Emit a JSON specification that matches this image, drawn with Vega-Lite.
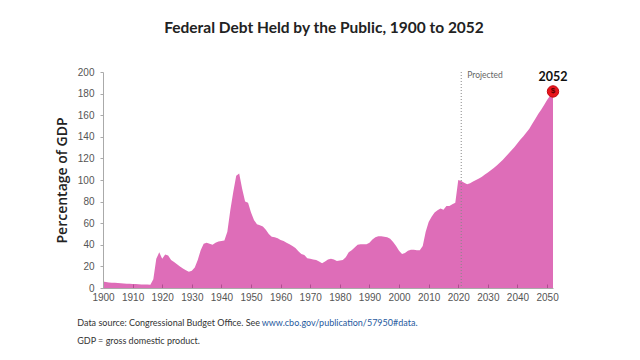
{
  "$schema": "https://vega.github.io/schema/vega-lite/v6.json",
  "width": 450,
  "height": 216,
  "autosize": {"type": "none"},
  "padding": {"left": 103, "top": 72, "right": 87, "bottom": 72},
  "background": "white",
  "config": {"view": {"stroke": null}, "axis": {"labelOverlap": false}},
  "title": {
    "text": "Federal Debt Held by the Public, 1900 to 2052",
    "font": "Lato",
    "fontSize": 15.5,
    "fontWeight": "bold",
    "color": "#222222",
    "anchor": "middle",
    "frame": "group",
    "dx": -4,
    "offset": 31
  },
  "datasets": {
    "debt": [
      {"year": 1900, "value": 6.0}, {"year": 1901, "value": 5.6}, {"year": 1902, "value": 5.2}, {"year": 1903, "value": 4.9},
      {"year": 1904, "value": 4.8}, {"year": 1905, "value": 4.6}, {"year": 1906, "value": 4.4}, {"year": 1907, "value": 4.1},
      {"year": 1908, "value": 4.0}, {"year": 1909, "value": 3.9}, {"year": 1910, "value": 3.7}, {"year": 1911, "value": 3.6},
      {"year": 1912, "value": 3.4}, {"year": 1913, "value": 3.3}, {"year": 1914, "value": 3.2}, {"year": 1915, "value": 3.2},
      {"year": 1916, "value": 3.0}, {"year": 1917, "value": 8}, {"year": 1918, "value": 27}, {"year": 1919, "value": 33},
      {"year": 1920, "value": 27}, {"year": 1921, "value": 31}, {"year": 1922, "value": 30}, {"year": 1923, "value": 26},
      {"year": 1924, "value": 24}, {"year": 1925, "value": 22}, {"year": 1926, "value": 20}, {"year": 1927, "value": 18},
      {"year": 1928, "value": 16.5}, {"year": 1929, "value": 15}, {"year": 1930, "value": 16}, {"year": 1931, "value": 19},
      {"year": 1932, "value": 26}, {"year": 1933, "value": 35}, {"year": 1934, "value": 41}, {"year": 1935, "value": 42},
      {"year": 1936, "value": 41}, {"year": 1937, "value": 40}, {"year": 1938, "value": 42}, {"year": 1939, "value": 43},
      {"year": 1940, "value": 43.5}, {"year": 1941, "value": 44}, {"year": 1942, "value": 52}, {"year": 1943, "value": 72},
      {"year": 1944, "value": 89}, {"year": 1945, "value": 104}, {"year": 1946, "value": 106}, {"year": 1947, "value": 92},
      {"year": 1948, "value": 80}, {"year": 1949, "value": 79}, {"year": 1950, "value": 70}, {"year": 1951, "value": 63},
      {"year": 1952, "value": 59}, {"year": 1953, "value": 58}, {"year": 1954, "value": 57}, {"year": 1955, "value": 54},
      {"year": 1956, "value": 50}, {"year": 1957, "value": 47.5}, {"year": 1958, "value": 47}, {"year": 1959, "value": 46},
      {"year": 1960, "value": 44.5}, {"year": 1961, "value": 43.5}, {"year": 1962, "value": 42}, {"year": 1963, "value": 40.5},
      {"year": 1964, "value": 39}, {"year": 1965, "value": 37}, {"year": 1966, "value": 34}, {"year": 1967, "value": 31.5},
      {"year": 1968, "value": 30.5}, {"year": 1969, "value": 27.5}, {"year": 1970, "value": 27}, {"year": 1971, "value": 26.5},
      {"year": 1972, "value": 26}, {"year": 1973, "value": 24.5}, {"year": 1974, "value": 23}, {"year": 1975, "value": 24.5},
      {"year": 1976, "value": 26.5}, {"year": 1977, "value": 27}, {"year": 1978, "value": 26.5}, {"year": 1979, "value": 25},
      {"year": 1980, "value": 25.5}, {"year": 1981, "value": 26}, {"year": 1982, "value": 28.5}, {"year": 1983, "value": 33},
      {"year": 1984, "value": 35}, {"year": 1985, "value": 37.5}, {"year": 1986, "value": 40}, {"year": 1987, "value": 40.5},
      {"year": 1988, "value": 40.5}, {"year": 1989, "value": 40.5}, {"year": 1990, "value": 42}, {"year": 1991, "value": 45},
      {"year": 1992, "value": 47}, {"year": 1993, "value": 48}, {"year": 1994, "value": 48}, {"year": 1995, "value": 47.5},
      {"year": 1996, "value": 47}, {"year": 1997, "value": 45.5}, {"year": 1998, "value": 42.5}, {"year": 1999, "value": 39},
      {"year": 2000, "value": 34.5}, {"year": 2001, "value": 31.5}, {"year": 2002, "value": 32.5}, {"year": 2003, "value": 34.5},
      {"year": 2004, "value": 35.5}, {"year": 2005, "value": 35.5}, {"year": 2006, "value": 35}, {"year": 2007, "value": 35},
      {"year": 2008, "value": 39}, {"year": 2009, "value": 52}, {"year": 2010, "value": 61}, {"year": 2011, "value": 66},
      {"year": 2012, "value": 70}, {"year": 2013, "value": 72}, {"year": 2014, "value": 73.5}, {"year": 2015, "value": 72.5},
      {"year": 2016, "value": 76}, {"year": 2017, "value": 76}, {"year": 2018, "value": 77.5}, {"year": 2019, "value": 79},
      {"year": 2020, "value": 100}, {"year": 2021, "value": 99}, {"year": 2022, "value": 97.5}, {"year": 2023, "value": 96},
      {"year": 2024, "value": 97}, {"year": 2025, "value": 98.5}, {"year": 2026, "value": 100}, {"year": 2027, "value": 101.5},
      {"year": 2028, "value": 103}, {"year": 2029, "value": 105}, {"year": 2030, "value": 107}, {"year": 2031, "value": 109},
      {"year": 2032, "value": 111}, {"year": 2033, "value": 113.5}, {"year": 2034, "value": 116}, {"year": 2035, "value": 118.5},
      {"year": 2036, "value": 121.5}, {"year": 2037, "value": 124.5}, {"year": 2038, "value": 127.5}, {"year": 2039, "value": 130.5},
      {"year": 2040, "value": 134}, {"year": 2041, "value": 137.5}, {"year": 2042, "value": 140.5}, {"year": 2043, "value": 144},
      {"year": 2044, "value": 147.5}, {"year": 2045, "value": 152}, {"year": 2046, "value": 156.5}, {"year": 2047, "value": 161},
      {"year": 2048, "value": 165}, {"year": 2049, "value": 169.5}, {"year": 2050, "value": 174}, {"year": 2051, "value": 178},
      {"year": 2052, "value": 182}
    ],
    "projectedLine": [{"year": 2021, "value": 200, "bottom": 0}],
    "projectedLabel": [{"year": 2021, "value": 197, "label": "Projected"}],
    "endpoint": [{"year": 2052, "value": 182, "label": "2052", "sign": "$"}],
    "notesPlain": [
      {"year": 1891.3, "value": -32.4, "text": "Data source: Congressional Budget Office. See"},
      {"year": 1891.3, "value": -49, "text": "GDP = gross domestic product."}
    ],
    "notesLink": [
      {"year": 1953.6, "value": -32.4, "text": "www.cbo.gov/publication/57950#data."}
    ]
  },
  "encoding": {
    "x": {
      "field": "year", "type": "quantitative",
      "scale": {"domain": [1900, 2052], "nice": false, "zero": false},
      "axis": {
        "values": [1900, 1910, 1920, 1930, 1940, 1950, 1960, 1970, 1980, 1990, 2000, 2010, 2020, 2030, 2040, 2050],
        "format": "d", "title": null, "grid": false, "labelOverlap": false,
        "labelFont": "Liberation Sans", "labelFontSize": 10, "labelColor": "#555555",
        "labelPadding": 8, "tickSize": -4, "tickColor": "#b04d90",
        "domainColor": "#aaaaaa", "zindex": 1, "labelFlush": false
      }
    },
    "y": {
      "field": "value", "type": "quantitative",
      "scale": {"domain": [0, 200], "nice": false},
      "axis": {
        "values": [0, 20, 40, 60, 80, 100, 120, 140, 160, 180, 200],
        "title": "Percentage of GDP", "grid": false, "labelOverlap": false,
        "titleFont": "Open Sans", "titleFontSize": 14, "titleFontWeight": 600, "titleColor": "#222222",
        "titlePadding": 8,
        "labelFont": "Liberation Sans", "labelFontSize": 10, "labelColor": "#555555",
        "labelPadding": 6, "tickSize": 3, "tickColor": "#aaaaaa", "domainColor": "#aaaaaa", "zindex": 1
      }
    }
  },
  "layer": [
    {
      "data": {"name": "debt"},
      "mark": {"type": "area", "color": "#de6db8", "interpolate": "linear"}
    },
    {
      "data": {"name": "projectedLine"},
      "mark": {"type": "rule", "color": "#888888", "strokeDash": [1, 2], "strokeWidth": 1},
      "encoding": {"y2": {"field": "bottom"}}
    },
    {
      "data": {"name": "projectedLabel"},
      "mark": {"type": "text", "align": "left", "baseline": "middle", "dx": 6, "font": "Lato", "fontSize": 8.5, "color": "#666666"},
      "encoding": {"text": {"field": "label"}}
    },
    {
      "data": {"name": "endpoint"},
      "mark": {"type": "point", "shape": "circle", "filled": true, "size": 130, "color": "#e8141c", "stroke": "#c20a10", "strokeWidth": 1, "opacity": 1}
    },
    {
      "data": {"name": "endpoint"},
      "mark": {"type": "text", "align": "center", "baseline": "middle", "font": "Liberation Sans", "fontSize": 8, "fontWeight": "bold", "color": "#5a0000"},
      "encoding": {"text": {"field": "sign"}}
    },
    {
      "data": {"name": "endpoint"},
      "mark": {"type": "text", "align": "center", "baseline": "middle", "dy": -14, "font": "Lato", "fontSize": 12.5, "fontWeight": "bold", "color": "#111111"},
      "encoding": {"text": {"field": "label"}}
    },
    {
      "data": {"name": "notesPlain"},
      "mark": {"type": "text", "align": "left", "baseline": "middle", "font": "Lato", "fontSize": 9, "color": "#333333"},
      "encoding": {"text": {"field": "text"}}
    },
    {
      "data": {"name": "notesLink"},
      "mark": {"type": "text", "align": "left", "baseline": "middle", "font": "Lato", "fontSize": 9, "color": "#1f5a9e"},
      "encoding": {"text": {"field": "text"}}
    }
  ]
}
